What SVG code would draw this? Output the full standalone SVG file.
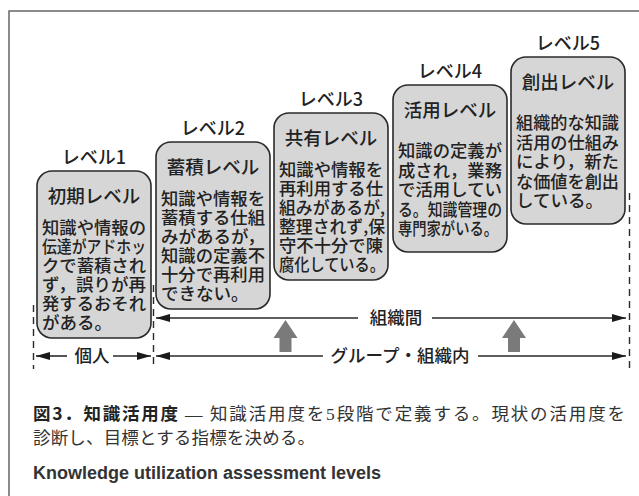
<svg xmlns="http://www.w3.org/2000/svg" width="639" height="496" viewBox="0 0 639 496">
<style>
  .jp { font-family: "Noto Sans CJK JP", "Noto Sans", sans-serif; fill: #222; font-weight: 500; }
  .lvl { font-size: 18px; text-anchor: middle; }
  .ttl { font-size: 18.5px; text-anchor: middle; }
  .body { font-size: 17.5px; }
  .box { fill: #d6d6d6; stroke: #2a2a2a; stroke-width: 1.6; }
  .conn { stroke: #2a2a2a; stroke-width: 1.6; fill: none; }
  .dash { stroke: #2a2a2a; stroke-width: 1.4; stroke-dasharray: 7 5; fill: none; }
  .lbl { font-size: 17.5px; text-anchor: middle; }
  .up { fill: #7a7a7a; }
  .frame { stroke: #666; stroke-width: 1.5; fill: none; }
  .cap { font-family: "Liberation Serif", "Noto Sans CJK JP", serif; font-size: 17.5px; fill: #333; }
  .capb { font-family: "Noto Sans CJK JP", sans-serif; font-weight: bold; font-size: 17.5px; fill: #222; }
  .en { font-family: "Liberation Sans", Arial, sans-serif; font-weight: bold; font-size: 18px; fill: #333; }
</style>
<defs>
  <marker id="ah" markerUnits="userSpaceOnUse" markerWidth="14" markerHeight="8" refX="14" refY="4" orient="auto-start-reverse">
    <path d="M0,0 L14,4 L0,8 z" fill="#1a1a1a"/>
  </marker>
</defs>

<rect width="639" height="496" fill="#ffffff"/>
<path class="frame" d="M9,496 L9,11 L639,11"/>

<g id="level1">
  <text class="jp lvl" x="94" y="164">レベル1</text>
  <rect class="box" x="37" y="171" width="114" height="167" rx="15"/>
  <text class="jp ttl" x="94" y="203">初期レベル</text>
  <text class="jp body" x="42" y="234" textLength="104" lengthAdjust="spacingAndGlyphs">知識や情報の</text>
  <text class="jp body" x="42" y="253" textLength="104" lengthAdjust="spacingAndGlyphs">伝達がアドホッ</text>
  <text class="jp body" x="42" y="272" textLength="104" lengthAdjust="spacingAndGlyphs">クで蓄積され</text>
  <text class="jp body" x="42" y="291" textLength="104" lengthAdjust="spacingAndGlyphs">ず，誤りが再</text>
  <text class="jp body" x="42" y="310" textLength="104" lengthAdjust="spacingAndGlyphs">発するおそれ</text>
  <text class="jp body" x="42" y="329">がある。</text>
</g>

<g id="level2">
  <text class="jp lvl" x="213" y="135">レベル2</text>
  <rect class="box" x="156" y="142" width="114" height="167" rx="15"/>
  <text class="jp ttl" x="213" y="174">蓄積レベル</text>
  <text class="jp body" x="161" y="205" textLength="104" lengthAdjust="spacingAndGlyphs">知識や情報を</text>
  <text class="jp body" x="161" y="224" textLength="104" lengthAdjust="spacingAndGlyphs">蓄積する仕組</text>
  <text class="jp body" x="161" y="243" textLength="104" lengthAdjust="spacingAndGlyphs">みがあるが，</text>
  <text class="jp body" x="161" y="262" textLength="104" lengthAdjust="spacingAndGlyphs">知識の定義不</text>
  <text class="jp body" x="161" y="281" textLength="104" lengthAdjust="spacingAndGlyphs">十分で再利用</text>
  <text class="jp body" x="161" y="300">できない。</text>
</g>

<g id="level3">
  <text class="jp lvl" x="331" y="106">レベル3</text>
  <rect class="box" x="274" y="113" width="114" height="167" rx="15"/>
  <text class="jp ttl" x="331" y="145">共有レベル</text>
  <text class="jp body" x="279" y="176" textLength="104" lengthAdjust="spacingAndGlyphs">知識や情報を</text>
  <text class="jp body" x="279" y="195" textLength="104" lengthAdjust="spacingAndGlyphs">再利用する仕</text>
  <text class="jp body" x="279" y="214" textLength="106" lengthAdjust="spacingAndGlyphs">組みがあるが,</text>
  <text class="jp body" x="279" y="233" textLength="106" lengthAdjust="spacingAndGlyphs">整理されず,保</text>
  <text class="jp body" x="279" y="252" textLength="104" lengthAdjust="spacingAndGlyphs">守不十分で陳</text>
  <text class="jp body" x="279" y="271" textLength="106" lengthAdjust="spacingAndGlyphs">腐化している。</text>
</g>

<g id="level4">
  <text class="jp lvl" x="450" y="78">レベル4</text>
  <rect class="box" x="393" y="85" width="114" height="167" rx="15"/>
  <text class="jp ttl" x="450" y="117">活用レベル</text>
  <text class="jp body" x="398" y="157" textLength="104" lengthAdjust="spacingAndGlyphs">知識の定義が</text>
  <text class="jp body" x="398" y="176.5" textLength="104" lengthAdjust="spacingAndGlyphs">成され，業務</text>
  <text class="jp body" x="398" y="196" textLength="104" lengthAdjust="spacingAndGlyphs">で活用してい</text>
  <text class="jp body" x="398" y="215.5" textLength="104" lengthAdjust="spacingAndGlyphs">る。知識管理の</text>
  <text class="jp body" x="398" y="235" textLength="100" lengthAdjust="spacingAndGlyphs">専門家がいる。</text>
</g>

<g id="level5">
  <text class="jp lvl" x="568" y="50">レベル5</text>
  <rect class="box" x="511" y="57" width="114" height="167" rx="15"/>
  <text class="jp ttl" x="568" y="89">創出レベル</text>
  <text class="jp body" x="516" y="129" textLength="103" lengthAdjust="spacingAndGlyphs">組織的な知識</text>
  <text class="jp body" x="516" y="148.5" textLength="103" lengthAdjust="spacingAndGlyphs">活用の仕組み</text>
  <text class="jp body" x="516" y="168" textLength="103" lengthAdjust="spacingAndGlyphs">により，新た</text>
  <text class="jp body" x="516" y="187.5" textLength="103" lengthAdjust="spacingAndGlyphs">な価値を創出</text>
  <text class="jp body" x="516" y="207">している。</text>
</g>

<g id="connectors">
  <line class="dash" x1="33.5" y1="305" x2="33.5" y2="369"/>
  <line class="dash" x1="153.5" y1="285" x2="153.5" y2="369"/>
  <line class="dash" x1="629.5" y1="193" x2="629.5" y2="369"/>

  <line class="conn" x1="156" y1="318" x2="358" y2="318" marker-start="url(#ah)"/>
  <line class="conn" x1="432" y1="318" x2="626" y2="318" marker-end="url(#ah)"/>
  <text class="jp lbl" x="396" y="324">組織間</text>

  <line class="conn" x1="156" y1="356" x2="323" y2="356" marker-start="url(#ah)"/>
  <line class="conn" x1="478" y1="356" x2="626" y2="356" marker-end="url(#ah)"/>
  <text class="jp lbl" x="400" y="362">グループ・組織内</text>

  <line class="conn" x1="36" y1="356" x2="67" y2="356" marker-start="url(#ah)"/>
  <line class="conn" x1="113" y1="356" x2="151" y2="356" marker-end="url(#ah)"/>
  <text class="jp lbl" x="92" y="362">個人</text>

  <polygon class="up" points="285.5,320 297.5,338 291.5,338 291.5,352 279.5,352 279.5,338 273.5,338"/>
  <polygon class="up" points="514,320 526,338 520,338 520,352 508,352 508,338 502,338"/>
</g>

<g id="caption">
  <text class="capb" x="33" y="420" textLength="145" lengthAdjust="spacing">図3．知識活用度</text>
  <text class="cap" x="185" y="420">—</text>
  <text class="cap" x="210" y="420" textLength="415" lengthAdjust="spacing">知識活用度を5段階で定義する。現状の活用度を</text>
  <text class="cap" x="33" y="444" textLength="282" lengthAdjust="spacing">診断し、目標とする指標を決める。</text>
  <text class="en" x="33" y="479">Knowledge utilization assessment levels</text>
</g>
</svg>
